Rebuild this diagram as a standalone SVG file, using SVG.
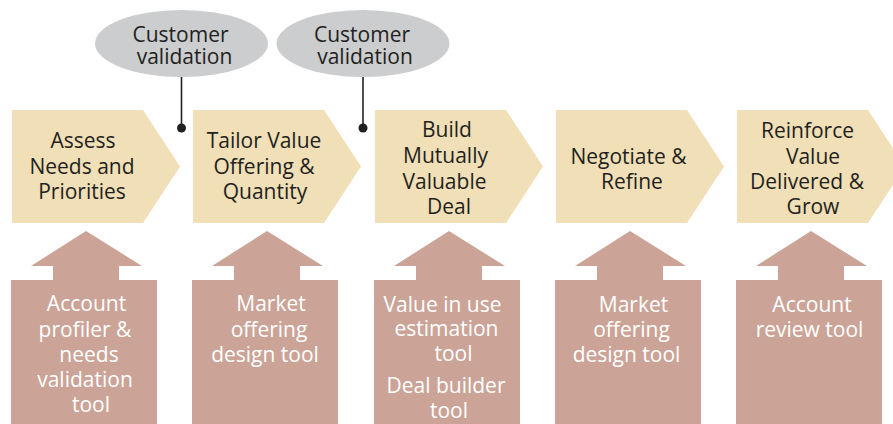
<svg xmlns="http://www.w3.org/2000/svg" width="893" height="424" viewBox="0 0 893 424">
  <style>
    .step { fill: #F0DFB7; }
    .tool { fill: #CBA497; }
    .check { fill: #CBCDCE; }
    .link { stroke: #231F20; stroke-width: 1.6; fill: none; }
    .dot { fill: #231F20; }
    text { font-family: "Open Sans", "Liberation Sans", sans-serif; font-size: 21px; text-anchor: middle; }
    .dark { fill: #231F20; }
    .light { fill: #FFFFFF; }
  </style>
  <defs>
    <!-- pointed step shape and the tool box with its upward arrow -->
    <path id="chevron" d="M0,0 H131 L168,56.5 L131,113 H0 Z"/>
    <path id="toolbox" d="M0,193 V49 H42 V35 H20 L75,0 L131,35 H108 V49 H146 V193 Z"/>
  </defs>

  <rect width="893" height="424" fill="#FFFFFF"/>

  <!-- process steps -->
  <g id="step-assess">
    <use href="#chevron" class="step" x="12" y="110"/>
    <text class="dark"><tspan x="83" y="148">Assess</tspan><tspan x="82" y="173.5">Needs and</tspan><tspan x="82" y="199">Priorities</tspan></text>
  </g>
  <g id="step-tailor">
    <use href="#chevron" class="step" x="193" y="110"/>
    <text class="dark"><tspan x="264" y="148">Tailor Value</tspan><tspan x="264" y="173.5">Offering &amp;</tspan><tspan x="265" y="199">Quantity</tspan></text>
  </g>
  <g id="step-build">
    <use href="#chevron" class="step" x="375" y="110"/>
    <text class="dark"><tspan x="447" y="137">Build</tspan><tspan x="445.5" y="163">Mutually</tspan><tspan x="444.5" y="188.5">Valuable</tspan><tspan x="449" y="214">Deal</tspan></text>
  </g>
  <g id="step-negotiate">
    <use href="#chevron" class="step" x="556" y="110"/>
    <text class="dark"><tspan x="628.5" y="164">Negotiate &amp;</tspan><tspan x="632" y="189">Refine</tspan></text>
  </g>
  <g id="step-reinforce">
    <use href="#chevron" class="step" x="737" y="110"/>
    <text class="dark"><tspan x="807.5" y="138">Reinforce</tspan><tspan x="813" y="163.5">Value</tspan><tspan x="807" y="189">Delivered &amp;</tspan><tspan x="813" y="214">Grow</tspan></text>
  </g>

  <!-- customer validation checkpoints -->
  <g id="validation-1">
    <ellipse class="check" cx="181.5" cy="43.5" rx="86.5" ry="33.5"/>
    <text class="dark"><tspan x="180.5" y="42">Customer</tspan><tspan x="184.5" y="64">validation</tspan></text>
  </g>
  <g id="validation-2">
    <ellipse class="check" cx="363" cy="43.5" rx="86.5" ry="33.5"/>
    <text class="dark"><tspan x="362" y="42">Customer</tspan><tspan x="365" y="64">validation</tspan></text>
  </g>

  <!-- supporting tools -->
  <g id="tool-profiler">
    <use href="#toolbox" class="tool" x="11" y="231"/>
    <text class="light"><tspan x="86.5" y="311">Account</tspan><tspan x="85" y="336.5">profiler &amp;</tspan><tspan x="89" y="361.5">needs</tspan><tspan x="85" y="387">validation</tspan><tspan x="91" y="412">tool</tspan></text>
  </g>
  <g id="tool-offering-1">
    <use href="#toolbox" class="tool" x="192" y="231"/>
    <text class="light"><tspan x="271" y="311">Market</tspan><tspan x="269" y="336.5">offering</tspan><tspan x="265" y="361.5">design tool</tspan></text>
  </g>
  <g id="tool-deal">
    <use href="#toolbox" class="tool" x="374" y="231"/>
    <text class="light"><tspan x="442.5" y="311.5">Value in use</tspan><tspan x="446.5" y="336">estimation</tspan><tspan x="453.5" y="361">tool</tspan></text>
    <text class="light"><tspan x="446" y="393">Deal builder</tspan><tspan x="449" y="418">tool</tspan></text>
  </g>
  <g id="tool-offering-2">
    <use href="#toolbox" class="tool" x="555" y="231"/>
    <text class="light"><tspan x="633.5" y="311.5">Market</tspan><tspan x="631.5" y="336.5">offering</tspan><tspan x="626.5" y="361.5">design tool</tspan></text>
  </g>
  <g id="tool-review">
    <use href="#toolbox" class="tool" x="736" y="231"/>
    <text class="light"><tspan x="812" y="311.5">Account</tspan><tspan x="809.5" y="336.5">review tool</tspan></text>
  </g>

  <!-- connectors from checkpoints to the flow -->
  <g id="connectors">
    <line class="link" x1="181.5" y1="77" x2="181.5" y2="128"/>
    <circle class="dot" cx="181.5" cy="128" r="4.5"/>
    <line class="link" x1="363" y1="77" x2="363" y2="128"/>
    <circle class="dot" cx="363" cy="128" r="4.5"/>
  </g>
</svg>
